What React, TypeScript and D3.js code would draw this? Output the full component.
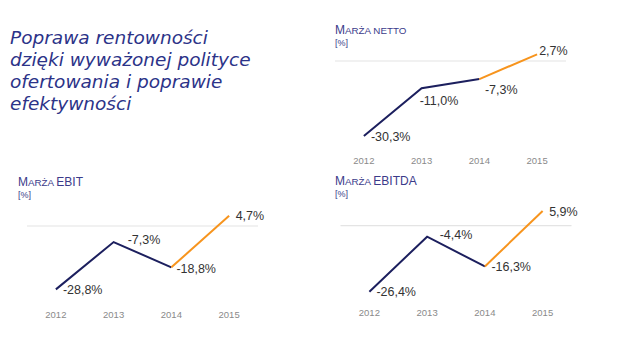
import React from "react";
import * as d3 from "d3";

const years = ["2012", "2013", "2014", "2015"];
const nettoValues = [-30.3, -11.0, -7.3, 2.7];
const ebitValues = [-28.8, -7.3, -18.8, 4.7];
const ebitdaValues = [-26.4, -4.4, -16.3, 5.9];
const nettoLabels = ["-30,3%", "-11,0%", "-7,3%", "2,7%"];
const ebitLabels = ["-28,8%", "-7,3%", "-18,8%", "4,7%"];
const ebitdaLabels = ["-26,4%", "-4,4%", "-16,3%", "5,9%"];
const titleLines = [
  "Poprawa rentowności",
  "dzięki wyważonej polityce",
  "ofertowania i poprawie",
  "efektywności",
];

const NAVY = "#1c1f5e";
const ORANGE = "#f7941d";
const TITLE = "#2c3388";
const SUB = "#3b3b8a";
const FONT = "'Liberation Sans', Arial, sans-serif";

type Seg = [string, boolean];
type ChartProps = {
  title: Seg[];
  values: number[];
  labels: string[];
  x0: number;
  titleX: number;
  zeroY: number;
  pxPer: number;
  titleY: number;
  yearY: number;
  offsets: [number, number][];
};

function MiniChart({ title, values, labels, x0, titleX, zeroY, pxPer, titleY, yearY, offsets }: ChartProps) {
  const width = 231;
  const x = d3.scalePoint<string>().domain(years).range([x0, x0 + width]).padding(0.5);
  const y = d3.scaleLinear().domain([0, -10]).range([zeroY, zeroY + 10 * pxPer]);
  const pts = values.map((v, i) => [x(years[i])!, y(v)] as [number, number]);
  const line = d3.line();
  const navyPath = line(pts.slice(0, 3))!;
  const orangePath = line(pts.slice(2, 4))!;
  return (
    <g>
      <text x={titleX} y={titleY} fill={SUB} fontFamily={FONT}>
        {title.map(([s, big], i) => (
          <tspan key={i} fontSize={big ? 12 : 9.8}>
            {s}
          </tspan>
        ))}
      </text>
      <text x={titleX} y={titleY + 12} fill={SUB} fontFamily={FONT} fontSize={9}>
        [%]
      </text>
      <line x1={x0} x2={x0 + width} y1={y(0)} y2={y(0)} stroke="#e4e4e4" strokeWidth={1.2} />
      <path d={navyPath} fill="none" stroke={NAVY} strokeWidth={2} />
      <path d={orangePath} fill="none" stroke={ORANGE} strokeWidth={2} />
      {pts.map((p, i) => (
        <text
          key={i}
          x={p[0] + offsets[i][0]}
          y={p[1] + offsets[i][1]}
          fill="#333"
          fontFamily={FONT}
          fontSize={12.5}
          dominantBaseline="middle"
        >
          {labels[i]}
        </text>
      ))}
      {years.map((yr) => (
        <text
          key={yr}
          x={x(yr)!}
          y={yearY}
          fill="#8a8a8a"
          fontFamily={FONT}
          fontSize={9.5}
          textAnchor="middle"
          dominantBaseline="middle"
        >
          {yr}
        </text>
      ))}
    </g>
  );
}

export default function App() {
  return (
    <svg
      width={627}
      height={359}
      style={{ position: "absolute", left: 0, top: 0, background: "#fff" }}
    >
      <rect width={627} height={359} fill="#fff" />
      {titleLines.map((t, i) => (
        <text
          key={i}
          x={10}
          y={43.5 + i * 22.2}
          fill={TITLE}
          fontFamily="'DejaVu Sans', sans-serif"
          fontSize={18.5}
          fontStyle="italic"
        >
          {t}
        </text>
      ))}
      <MiniChart
        title={[["M", true], ["ARŻA NETTO", false]]}
        values={nettoValues}
        labels={nettoLabels}
        x0={335}
        titleX={335}
        zeroY={61}
        pxPer={2.475}
        titleY={34}
        yearY={161}
        offsets={[[7, 2], [-2, 13.5], [5.5, 12], [2, -3]]}
      />
      <MiniChart
        title={[["M", true], ["ARŻA ", false], ["EBIT", true]]}
        values={ebitValues}
        labels={ebitLabels}
        x0={27}
        titleX={18}
        zeroY={226}
        pxPer={2.2}
        titleY={185.5}
        yearY={315}
        offsets={[[7, 1.5], [14, -1], [5, 2.5], [6.5, 1.5]]}
      />
      <MiniChart
        title={[["M", true], ["ARŻA ", false], ["EBITDA", true]]}
        values={ebitdaValues}
        labels={ebitdaLabels}
        x0={340.5}
        titleX={335}
        zeroY={225.7}
        pxPer={2.5}
        titleY={185}
        yearY={313.5}
        offsets={[[7, 1.5], [12.5, -1], [6.5, 1], [6.5, 1.5]]}
      />
    </svg>
  );
}
